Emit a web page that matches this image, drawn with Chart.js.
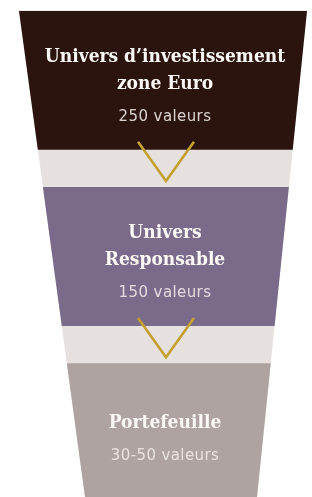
<!DOCTYPE html>
<html>
<head>
<meta charset="utf-8">
<script src="https://cdn.jsdelivr.net/npm/chart.js@4/dist/chart.umd.min.js"></script>
<style>
  html, body { margin: 0; padding: 0; background: #fff; overflow: hidden; }
  #wrap { position: relative; width: 312px; height: 497px; overflow: hidden; }
  #funnel { position: absolute; left: 0; top: -8px; }
</style>
</head>
<body>
<div id="wrap"><canvas id="funnel" width="312" height="529"></canvas></div>
<script>
// étapes du filtre
const stages = ['Univers d\u2019investissement zone Euro', 'Univers Responsable', 'Portefeuille'];
const stageLines = [['Univers d\u2019investissement', 'zone Euro'], ['Univers', 'Responsable'], ['Portefeuille']];
const stageCounts = ['250', '150', '30-50'];
const countUnit = 'valeurs';
const stageColors = ['#2b140e', '#7a6b8b', '#aea3a0'];

const GAP_COLOR = '#e6e0de';
const GOLD = '#c4a030';
const TEXT_X = 165;

// bords de l'entonnoir (px page), haut -> bas
const edgeTop = { y: 11, left: 19, right: 307 };
const edgeBottom = { y: 497, left: 85, right: 257 };
const OFFSET = 8; // canvas décalé de -8px

function edgeAt(y) {
    // y en coordonnées canvas
    const py = y - OFFSET;
    const t = (py - edgeTop.y) / (edgeBottom.y - edgeTop.y);
    return {
        left: edgeTop.left + (edgeBottom.left - edgeTop.left) * t,
        right: edgeTop.right + (edgeBottom.right - edgeTop.right) * t
    };
}

const funnelPlugin = {
    id: 'funnelShape',
    beforeDatasetsDraw(chart) {
        const ctx = chart.ctx;
        const bars = chart.getDatasetMeta(0).data;
        const top = bars[0].y - bars[0].height / 2;
        const bottom = chart.height;
        const a = edgeAt(top), b = edgeAt(bottom);
        ctx.save();
        ctx.beginPath();
        ctx.moveTo(a.left, top);
        ctx.lineTo(a.right, top);
        ctx.lineTo(b.right, bottom);
        ctx.lineTo(b.left, bottom);
        ctx.closePath();
        ctx.fillStyle = GAP_COLOR;
        ctx.fill();
        ctx.clip();
    },
    afterDatasetsDraw(chart) {
        const ctx = chart.ctx;
        ctx.restore();
        const bars = chart.getDatasetMeta(0).data;

        // chevrons entre les étapes
        bars.forEach((bar, i) => {
            if (i === bars.length - 1) return;
            const barBottom = bar.y + bar.height / 2;
            const next = bars[i + 1];
            const nextTop = next.y - next.height / 2;
            ctx.save();
            ctx.strokeStyle = GOLD;
            ctx.lineWidth = 2.6;
            ctx.lineJoin = 'miter';
            ctx.beginPath();
            ctx.moveTo(166 - 28, barBottom - 8);
            ctx.lineTo(166, nextTop - 6);
            ctx.lineTo(166 + 28, barBottom - 8);
            ctx.stroke();
            ctx.restore();
        });

        // textes
        bars.forEach((bar, i) => {
            const lines = stageLines[i];
            const titleStep = 27;
            const valueStep = 33;
            const block = (lines.length - 1) * titleStep + valueStep;
            let y = bar.y + 7 - block / 2;
            ctx.save();
            ctx.textAlign = 'center';
            ctx.textBaseline = 'middle';
            ctx.fillStyle = '#fbf8f5';
            ctx.font = 'bold 19px "DejaVu Serif Condensed", "DejaVu Serif"';
            lines.forEach((line, k) => {
                ctx.fillText(line, TEXT_X, y + k * titleStep);
            });
            y += (lines.length - 1) * titleStep + valueStep;
            ctx.fillStyle = 'rgba(240,234,232,0.88)';
            ctx.font = '15px "DejaVu Sans"';
            ctx.letterSpacing = '0.4px';
            ctx.fillText(stageCounts[i] + ' ' + countUnit, TEXT_X, y);
            ctx.restore();
        });
    }
};

new Chart(document.getElementById('funnel'), {
    type: 'bar',
    data: {
        labels: stages,
        datasets: [{
            data: stages.map(() => [0, 1]),
            backgroundColor: stageColors,
            borderWidth: 0,
            barPercentage: 0.788,
            categoryPercentage: 1
        }]
    },
    options: {
        indexAxis: 'y',
        responsive: false,
        animation: false,
        layout: { padding: 0 },
        plugins: { legend: { display: false }, tooltip: { enabled: false } },
        scales: {
            x: { display: false, min: 0, max: 1 },
            y: { display: false }
        }
    },
    plugins: [funnelPlugin]
});
</script>
</body>
</html>
